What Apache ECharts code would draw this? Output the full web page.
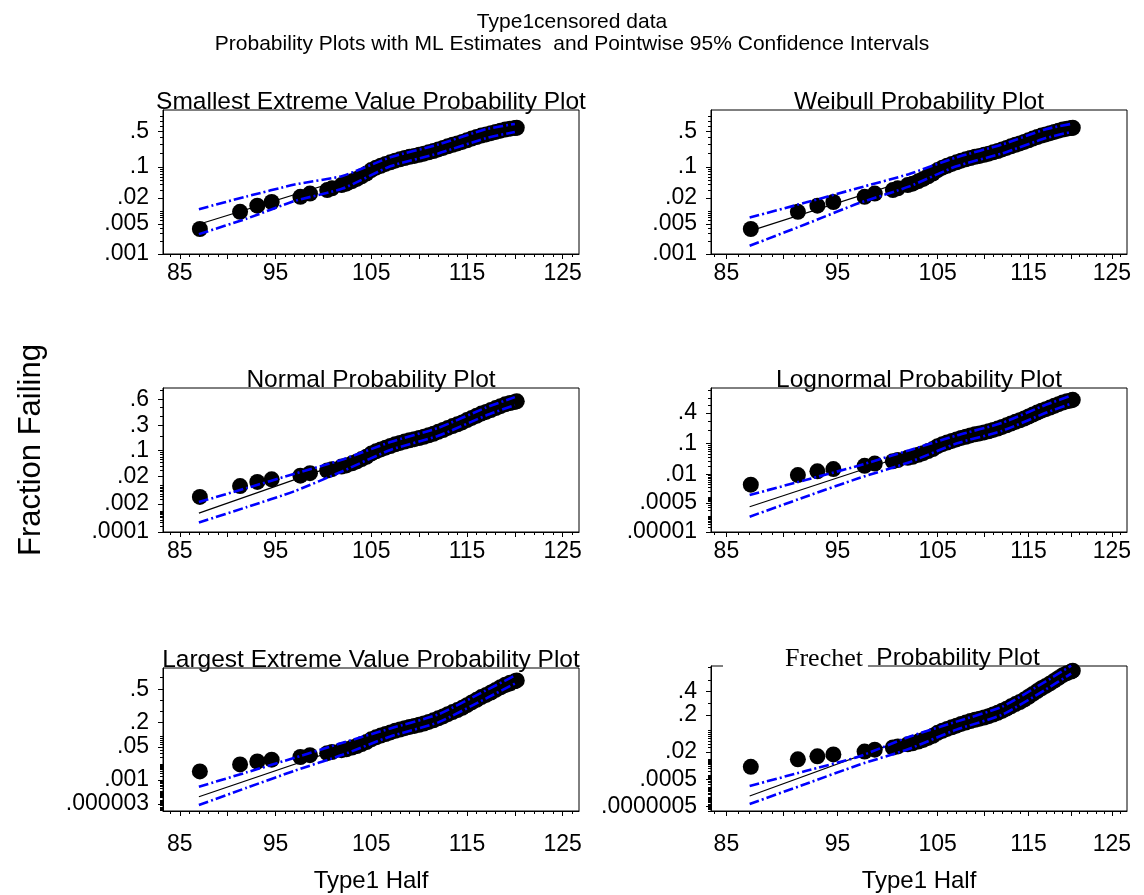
<!DOCTYPE html>
<html><head><meta charset="utf-8">
<script src="https://cdn.jsdelivr.net/npm/echarts@6/dist/echarts.min.js"></script>
<style>html,body{margin:0;padding:0;background:#fff}#c{width:1144px;height:895px}</style>
</head><body><div id="c"></div>
<script>
const mainTitle = 'Type1censored data';
const subTitle = 'Probability Plots with ML Estimates  and Pointwise 95% Confidence Intervals';
const panelTitles = ['Smallest Extreme Value Probability Plot','Weibull Probability Plot','Normal Probability Plot','Lognormal Probability Plot','Largest Extreme Value Probability Plot','Probability Plot'];
const frechetWord = 'Frechet';
const xName = 'Type1 Half';
const yName = 'Fraction Failing';
const xTickLabels = [85, 95, 105, 115, 125];
const xMajorTicks = [85, 90, 95, 100, 105, 110, 115, 120, 125];
const yLabelsSEV = ['.5', '.1', '.02', '.005', '.001'];
const yLabelsWeibull = ['.5', '.1', '.02', '.005', '.001'];
const yLabelsNormal = ['.6', '.3', '.1', '.02', '.002', '.0001'];
const yLabelsLognormal = ['.4', '.1', '.01', '.0005', '.00001'];
const yLabelsLEV = ['.5', '.2', '.05', '.001', '.000003'];
const yLabelsFrechet = ['.4', '.2', '.02', '.0005', '.0000005'];

// failure times and plotting positions (fraction failing)
const failTimes = [87.1, 91.3, 93.1, 94.6, 97.6, 98.6, 100.4, 100.9, 101.9, 102.4, 103.0, 103.5, 104.0, 104.5, 105.0, 105.5, 106.0, 106.5, 107.0, 107.5, 108.0, 108.5, 109.0, 109.5, 110.0, 110.5, 111.0, 111.5, 112.0, 112.5, 113.0, 113.5, 114.0, 114.5, 115.0, 115.5, 116.0, 116.5, 117.0, 117.5, 118.0, 118.5, 119.0, 119.5, 120.0, 120.2];
const failFractions = [.0038, .0095, .0132, .016, .021, .025, .030, .033, .039, .042, .048, .054, .062, .071, .085, .096, .106, .116, .126, .137, .146, .156, .165, .173, .182, .192, .205, .218, .235, .252, .272, .291, .309, .330, .355, .38, .405, .43, .45, .472, .495, .518, .54, .556, .568, .575];

// ML fit lines (fraction failing at start and end time)
const fitTimes = [87, 120];
const fitSEV = [.0049, .60];
const fitWeibull = [.0034, .57];
const fitNormal = [.0008, .56];
const fitLognormal = [.00032, .56];
const fitLEV = [.000025, .50];
const fitFrechet = [.000013, .51];

// pointwise 95% confidence bands
const ciTimes = [87, 92, 97, 102, 107, 112, 117, 120];
const ciSEVUpper = [.0109, .0215, .0402, .063, .161, .295, .547, .649];
const ciSEVLower = [.00289, .00663, .0169, .0325, .1032, .195, .388, .495];
const ciWeibullUpper = [.0070, .0155, .0335, .069, .161, .295, .547, .649];
const ciWeibullLower = [.00155, .0049, .0149, .036, .1032, .195, .388, .495];
const ciNormalUpper = [.00237, .0081, .0241, .0601, .152, .273, .502, .624];
const ciNormalLower = [.000294, .00147, .00626, .0287, .103, .200, .408, .531];
const ciLognormalUpper = [.00127, .006, .0212, .065, .156, .279, .509, .629];
const ciLognormalLower = [.0000888, .00105, .00704, .0274, .100, .196, .402, .524];
const ciLEVUpper = [.00027, .00335, .0195, .0676, .154, .270, .491, .613];
const ciLEVLower = [.0000021, .00022, .0042, .0259, .101, .2015, .418, .549];
const ciFrechetUpper = [.000145, .0021, .0126, .0658, .1524, .2685, .489, .612];
const ciFrechetLower = [.0000012, .00022, .0048, .0265, .1023, .203, .42, .5515];

function qnorm(p){
  const a=[-3.969683028665376e+01,2.209460984245205e+02,-2.759285104469687e+02,1.383577518672690e+02,-3.066479806614716e+01,2.506628277459239e+00];
  const b=[-5.447609879822406e+01,1.615858368580409e+02,-1.556989798598866e+02,6.680131188771972e+01,-1.328068155288572e+01];
  const c=[-7.784894002430293e-03,-3.223964580411365e-01,-2.400758277161838e+00,-2.549732539343734e+00,4.374664141464968e+00,2.938163982698783e+00];
  const d=[7.784695709041462e-03,3.224671290700398e-01,2.445134137142996e+00,3.754408661907416e+00];
  const pl=0.02425, ph=1-pl; let q,r;
  if(p<pl){q=Math.sqrt(-2*Math.log(p));return (((((c[0]*q+c[1])*q+c[2])*q+c[3])*q+c[4])*q+c[5])/((((d[0]*q+d[1])*q+d[2])*q+d[3])*q+1);}
  if(p>ph){q=Math.sqrt(-2*Math.log(1-p));return -(((((c[0]*q+c[1])*q+c[2])*q+c[3])*q+c[4])*q+c[5])/((((d[0]*q+d[1])*q+d[2])*q+d[3])*q+1);}
  q=p-0.5;r=q*q;return (((((a[0]*r+a[1])*r+a[2])*r+a[3])*r+a[4])*r+a[5])*q/(((((b[0]*r+b[1])*r+b[2])*r+b[3])*r+b[4])*r+1);
}
const Q = {
  sev: p => Math.log(-Math.log(1 - p)),
  norm: qnorm,
  lev: p => -Math.log(-Math.log(p))
};

const FONT = '"Liberation Sans", Arial, sans-serif';
const panels = [
  {dist:'sev',  logX:false, labels:yLabelsSEV,       fit:fitSEV,       up:ciSEVUpper,       lo:ciSEVLower,       box:[163,110,416,144], yr:[0.001, 0.89],    lm:8},
  {dist:'sev',  logX:true,  labels:yLabelsWeibull,   fit:fitWeibull,   up:ciWeibullUpper,   lo:ciWeibullLower,   box:[711,110,416,144], yr:[0.001, 0.89],    lm:8},
  {dist:'norm', logX:false, labels:yLabelsNormal,    fit:fitNormal,    up:ciNormalUpper,    lo:ciNormalLower,    box:[163,388,416,144], yr:[0.0001, 0.722],  lm:8},
  {dist:'norm', logX:true,  labels:yLabelsLognormal, fit:fitLognormal, up:ciLognormalUpper, lo:ciLognormalLower, box:[711,388,416,144], yr:[0.00001, 0.722], lm:8},
  {dist:'lev',  logX:false, labels:yLabelsLEV,       fit:fitLEV,       up:ciLEVUpper,       lo:ciLEVLower,       box:[163,668,416,143], yr:[2.5e-7, 0.668],  lm:22, xname:true},
  {dist:'lev',  logX:true,  labels:yLabelsFrechet,   fit:fitFrechet,   up:ciFrechetUpper,   lo:ciFrechetLower,   box:[711,666,416,145], yr:[1e-7, 0.61],     lm:22, xname:true}
];
const xRangeLin = [83.25, 126.7];
const xRangeLog = [83.7, 126.9];

const minorX = []; for (let t = 84; t <= 126; t++) minorX.push(t);
const minorP = [];
for (let k = -8; k <= -1; k++) for (let m = 1; m <= 9; m++) minorP.push(m * Math.pow(10, k));
for (let m = 1; m <= 9; m++) minorP.push(m / 10);

const option = {animation:false, backgroundColor:'#fff', title:[], grid:[], xAxis:[], yAxis:[], series:[], graphic:[]};
option.title.push({text: mainTitle + '\n' + subTitle, left:'center', top:6,
  textStyle:{fontSize:21, fontWeight:'normal', color:'#000', fontFamily:FONT, lineHeight:22, align:'center'}});

panels.forEach((P, i) => {
  const q = Q[P.dist];
  const tx = P.logX ? (t => Math.log(t)) : (t => t);
  const xr = P.logX ? xRangeLog : xRangeLin;
  const [L, T, W, H] = P.box;
  option.grid.push({left:L, top:T, width:W, height:H, show:true, borderColor:'#000', borderWidth:1});
  const xmin = tx(xr[0]), xmax = tx(xr[1]);
  const ymin = q(P.yr[0]), ymax = q(P.yr[1]);
  option.xAxis.push({gridIndex:i, type:'value', min:xmin, max:xmax, position:'bottom',
    axisLine:{show:true, onZero:false, lineStyle:{color:'#000', width:1}},
    axisTick:{show:true, length:5, customValues:xMajorTicks.map(tx), lineStyle:{color:'#000'}},
    axisLabel:{show:true, customValues:xTickLabels.map(tx), margin:P.lm, fontSize:23, color:'#000', fontFamily:FONT,
      formatter: v => String(Math.round(P.logX ? Math.exp(v) : v))},
    splitLine:{show:false},
    name: P.xname ? xName : '', nameLocation:'middle', nameGap:58,
    nameTextStyle:{fontSize:24, color:'#000', fontFamily:FONT}});
  option.xAxis.push({gridIndex:i, type:'value', min:xmin, max:xmax, position:'bottom',
    axisLine:{show:false, onZero:false}, axisLabel:{show:false}, splitLine:{show:false},
    axisTick:{show:true, length:3, customValues:minorX.map(tx), lineStyle:{color:'#000'}}});
  const labVals = P.labels.map(s => q(parseFloat(s)));
  option.yAxis.push({gridIndex:i, type:'value', min:ymin, max:ymax, position:'left',
    axisLine:{show:true, onZero:false, lineStyle:{color:'#000', width:1}},
    axisTick:{show:true, length:5, customValues:labVals, lineStyle:{color:'#000'}},
    axisLabel:{show:true, customValues:labVals, margin:14, fontSize:23, color:'#000', fontFamily:FONT,
      formatter: v => { let bi = 0, bd = Infinity; labVals.forEach((lv, j) => { const dd = Math.abs(lv - v); if (dd < bd) { bd = dd; bi = j; } }); return P.labels[bi]; }},
    splitLine:{show:false}});
  option.yAxis.push({gridIndex:i, type:'value', min:ymin, max:ymax, position:'left',
    axisLine:{show:false, onZero:false}, axisLabel:{show:false}, splitLine:{show:false},
    axisTick:{show:true, length:3, customValues:minorP.filter(p => p >= P.yr[0] && p <= P.yr[1]).map(q), lineStyle:{color:'#000'}}});
  const xi = 2 * i, yi = 2 * i;
  option.series.push({type:'line', xAxisIndex:xi, yAxisIndex:yi, z:1, symbol:'none',
    data: fitTimes.map((t, j) => [tx(t), q(P.fit[j])]), lineStyle:{color:'#000', width:1.2}});
  option.series.push({type:'scatter', xAxisIndex:xi, yAxisIndex:yi, z:2, symbol:'circle', symbolSize:16,
    data: failTimes.map((t, j) => [tx(t), q(failFractions[j])]), itemStyle:{color:'#000', opacity:1}});
  [P.up, P.lo].forEach(arr => {
    option.series.push({type:'line', xAxisIndex:xi, yAxisIndex:yi, z:3, symbol:'none', smooth:0.2,
      data: ciTimes.map((t, j) => [tx(t), q(arr[j])]),
      lineStyle:{color:'#0000ff', width:2.6, type:[10, 3, 2, 3]}});
  });
  const cx = L + W / 2;
  if (i === 5) {
    option.graphic.push({type:'text', z:100, x:723, y:T + 6, style:{text:frechetWord, font:'26px "Liberation Serif", "Times New Roman", serif',
      fill:'#000', align:'left', verticalAlign:'bottom', backgroundColor:'#fff', padding:[0, 5, 0, 62]}});
    option.graphic.push({type:'text', z:100, x:958, y:T + 5, style:{text:panelTitles[i], font:'24.5px ' + FONT, fill:'#000', align:'center', verticalAlign:'bottom'}});
  } else {
    option.graphic.push({type:'text', z:100, x:cx, y:T + 5, style:{text:panelTitles[i], font:'24.5px ' + FONT, fill:'#000', align:'center', verticalAlign:'bottom'}});
  }
});
option.graphic.push({type:'text', z:100, x:31, y:450, rotation:Math.PI / 2,
  style:{text:yName, font:'31px ' + FONT, fill:'#000', align:'center', verticalAlign:'middle'}});

const chart = echarts.init(document.getElementById('c'), null, {renderer:'canvas'});
chart.setOption(option);
</script></body></html>
